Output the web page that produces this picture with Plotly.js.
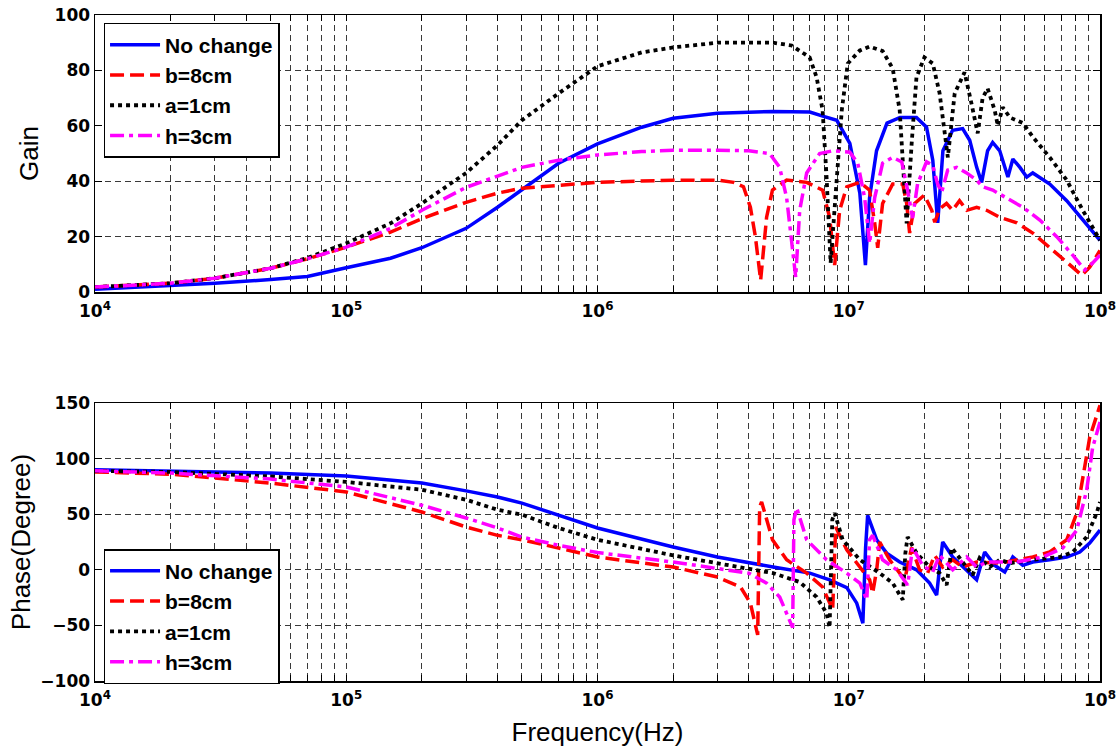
<!DOCTYPE html>
<html>
<head>
<meta charset="utf-8">
<script src="https://cdn.plot.ly/plotly-3.0.1.min.js"></script>
<style>html,body{margin:0;padding:0;background:#fff;}#chart{width:1118px;height:755px;}</style>
</head>
<body>
<div id="chart"></div>
<script>
// ---------- data ----------
const seriesNames = ['No change', 'b=8cm', 'a=1cm', 'h=3cm'];

// Gain subplot
const gainNoChangeF = [1e4,2e4,3e4,5e4,7e4,1e5,1.5e5,2e5,3e5,4e5,5e5,7e5,1e6,1.5e6,2e6,3e6,5e6,7e6,7.94e6,8.96e6,1.01e7,1.107e7,1.165e7,1.21e7,1.29e7,1.42e7,1.6e7,1.86e7,2.04e7,2.16e7,2.26e7,2.37e7,2.59e7,2.84e7,3.03e7,3.23e7,3.38e7,3.57e7,3.74e7,3.99e7,4.3e7,4.5e7,4.8e7,5.11e7,5.4e7,6.31e7,7.37e7,8.54e7,1e8];
const gainNoChange = [1,2.3,3.2,4.5,5.6,8.8,12.2,16,23,30.6,36.8,46.5,53.5,59.5,62.7,64.5,65.2,65,63.4,62,53.7,35.7,9.7,34,51,61,63,63,59.5,47.6,25,51,58.4,59,54.8,45,39.6,51,54,51,41.5,48,45,41.5,43,39,33,26,18.7];

const gainB8F = [1e4,2e4,3e4,5e4,7e4,1e5,1.5e5,2e5,3e5,4e5,5e5,7e5,1e6,2e6,3e6,3.48e6,3.81e6,4.06e6,4.25e6,4.46e6,4.71e6,4.97e6,5.66e6,6.8e6,7.87e6,8.39e6,8.79e6,9.2e6,9.82e6,1.107e7,1.21e7,1.268e7,1.304e7,1.364e7,1.496e7,1.64e7,1.7e7,1.747e7,1.83e7,2.0e7,2.14e7,2.2e7,2.3e7,2.45e7,2.59e7,2.76e7,2.95e7,3.23e7,3.54e7,3.99e7,4.67e7,5.4e7,6.31e7,7.37e7,8.46e7,9.1e7,1e8];
const gainB8 = [1.8,3.2,5,8.6,12,16.2,21.6,26.5,32.4,35.7,37.5,38.6,39.6,40.4,40.4,39.6,38,30.6,20,4.3,27,36.8,40.4,39.6,36.8,27,9.7,29.5,38,39.6,36.8,25,16,32,39,39,32,21.3,32,35,29.5,25.2,30,32,29.5,33,29.5,30.6,29.5,27,25,21.3,16.2,10.8,6.1,9,15];

const gainA1F = [1e4,2e4,3e4,5e4,7e4,1e5,1.5e5,2e5,3e5,4e5,5e5,7e5,1e6,1.5e6,2e6,3e6,5e6,5.92e6,6.99e6,7.45e6,7.87e6,8.16e6,8.47e6,8.96e6,9.38e6,9.91e6,1.107e7,1.21e7,1.364e7,1.496e7,1.595e7,1.64e7,1.70e7,1.78e7,1.86e7,2.0e7,2.16e7,2.3e7,2.41e7,2.48e7,2.64e7,2.89e7,3.08e7,3.26e7,3.41e7,3.57e7,3.81e7,3.92e7,4.1e7,4.38e7,4.93e7,5.4e7,6.31e7,7.37e7,8.54e7,1e8];
const gainA1 = [1.8,3.2,5,8.6,12.3,17.6,24.8,32,43,53,62,71.7,81.5,86.5,88.3,90,90,89,84.7,77.5,65.6,41.5,10.5,41.5,65.6,82.5,87.2,88.6,87,80.7,65.6,47.6,24.8,53.7,77.5,84.7,82.5,71.7,56,48.6,71.7,79.3,68,57.3,70,73.5,65.6,60,66.7,63,61,56,48.6,40.4,29.5,18.7];

const gainH3F = [1e4,2e4,3e4,5e4,7e4,1e5,1.5e5,2e5,3e5,4e5,5e5,7e5,1e6,1.5e6,2e6,3e6,4e6,4.84e6,5.31e6,5.66e6,6.15e6,6.38e6,6.8e6,7.66e6,8.63e6,1.01e7,1.086e7,1.157e7,1.211e7,1.268e7,1.364e7,1.496e7,1.625e7,1.715e7,1.795e7,1.879e7,2.04e7,2.157e7,2.258e7,2.343e7,2.476e7,2.69e7,2.945e7,3.228e7,3.412e7,3.741e7,4.256e7,4.929e7,5.76e7,6.726e7,7.794e7,8.69e7,9.35e7,1e8];
const gainH3 = [1.8,3.2,5,8.6,12,16.2,23,29.5,37.8,42,45,47.6,49.5,50.7,51.2,51.2,51,50,45,34,5.4,29.5,43,50,51,50.5,46.5,34,17.6,34,46.5,48.6,47,36.8,26.7,39,47,45.8,39,36,44,45,43,40.4,38,36.8,34,30.6,26,20,13.3,8,10.5,13.3];

// Phase subplot
const phaseNoChangeF = [1e4,2e4,5e4,1e5,2e5,3e5,4e5,5e5,7e5,1e6,2e6,3e6,5e6,7e6,8.39e6,9.82e6,1.076e7,1.138e7,1.167e7,1.189e7,1.292e7,1.416e7,1.595e7,1.862e7,2.098e7,2.238e7,2.3e7,2.365e7,2.593e7,2.945e7,3.228e7,3.476e7,3.811e7,4.178e7,4.498e7,4.929e7,5.402e7,6.31e7,7.372e7,8.312e7,9.1e7,1e8];
const phaseNoChange = [90,89,87,84.4,78,71,65.5,60,49,37.6,20.5,11.5,2.5,-3,-9,-16,-30,-48,20,49,27,15,7,0,-12,-22.7,2.5,25,11.5,0,-9,16,4,-2,11.5,4,7,9,11.5,16,24,35.7];

const phaseB8F = [1e4,2e4,5e4,1e5,2e5,3e5,4e5,5e5,7e5,1e6,2e6,3e6,3.71e6,4.06e6,4.34e6,4.42e6,4.5e6,4.97e6,5.66e6,6.8e6,7.87e6,8.63e6,8.87e6,9.82e6,1.107e7,1.211e7,1.245e7,1.292e7,1.328e7,1.455e7,1.595e7,1.67e7,1.779e7,1.914e7,2.06e7,2.197e7,2.365e7,2.593e7,2.839e7,3.228e7,3.99e7,5.402e7,6.31e7,7.372e7,8.085e7,8.54e7,9.1e7,1e8];
const phaseB8 = [88,86,78,70,52,38.5,31,27,19.6,11.5,2.5,-6.5,-15.5,-30,-58.6,56.5,61,27,9,-3,-15.5,-36,38.5,18,2.5,-9,-21,0,25,9,-3,-9,20,0,-3,13,2.5,9,2.5,7,6,11.5,16,27,51,81,119,148];

const phaseA1F = [1e4,2e4,5e4,1e5,2e5,3e5,4e5,5e5,7e5,1e6,2e6,3e6,5e6,6.38e6,7.45e6,8.16e6,8.39e6,8.6e6,8.79e6,9.46e6,1.107e7,1.328e7,1.496e7,1.64e7,1.68e7,1.715e7,1.862e7,2.098e7,2.3e7,2.453e7,2.569e7,2.762e7,2.945e7,3.111e7,3.318e7,3.64e7,3.99e7,4.376e7,5.402e7,6.914e7,7.794e7,8.85e7,9.7e7,1e8];
const phaseA1 = [89,88,84,79,72,63,54,49.6,37.6,27,13,6,-3,-11,-24.5,-39,-52,45,51,27,9,-3,-12,-27,15,29.5,15,2.5,-3,-13.7,19.6,10.6,2.5,-4.7,10.6,2.5,9,6,9,11.5,16,29.5,51,61];

const phaseH3F = [1e4,2e4,5e4,1e5,2e5,3e5,4e5,5e5,7e5,1e6,2e6,3e6,4e6,4.71e6,5.31e6,5.98e6,6.05e6,6.21e6,6.8e6,8.16e6,9.82e6,1.107e7,1.18e7,1.21e7,1.245e7,1.364e7,1.552e7,1.715e7,1.795e7,1.968e7,2.157e7,2.3e7,2.593e7,2.945e7,3.228e7,3.54e7,4.666e7,5.921e7,7.107e7,8.085e7,8.85e7,9.35e7,1e8];
const phaseH3 = [89,87,81.6,74.5,58,46.6,37.6,29.5,22,15.5,7,1.6,-3,-12,-24.5,-52,45,55.6,27,9,-3,-12,-27,27,31,9,0,-13.7,20,4,-2,13,0,11.5,2.5,7,7,11.5,19.6,35.7,71.7,110,133];

// Axis ticks
const xTickVals = [1e4,2e4,3e4,4e4,5e4,6e4,7e4,8e4,9e4,1e5,2e5,3e5,4e5,5e5,6e5,7e5,8e5,9e5,1e6,2e6,3e6,4e6,5e6,6e6,7e6,8e6,9e6,1e7,2e7,3e7,4e7,5e7,6e7,7e7,8e7,9e7,1e8];
const xTickText = ['10<sup>4</sup>','','','','','','','','','10<sup>5</sup>','','','','','','','','','10<sup>6</sup>','','','','','','','','','10<sup>7</sup>','','','','','','','','','10<sup>8</sup>'];
const gainTicks = [0,20,40,60,80,100];
const phaseTicks = [-100,-50,0,50,100,150];

// ---------- styles ----------
const styles = [
  {color:'#0000ff', width:3.5, dash:'solid'},
  {color:'#ff0000', width:3.5, dash:'14px,6px'},
  {color:'#000000', width:3.8, dash:'4px,4px'},
  {color:'#ff00ff', width:3.5, dash:'14px,5px,4px,5px'}
];

const gainX = [gainNoChangeF, gainB8F, gainA1F, gainH3F];
const gainY = [gainNoChange, gainB8, gainA1, gainH3];
const phaseX = [phaseNoChangeF, phaseB8F, phaseA1F, phaseH3F];
const phaseY = [phaseNoChange, phaseB8, phaseA1, phaseH3];

const traces = [];
for (let i = 0; i < 4; i++) {
  traces.push({x: gainX[i], y: gainY[i], name: seriesNames[i], type:'scatter', mode:'lines',
    line: styles[i], xaxis:'x', yaxis:'y', legend:'legend'});
}
for (let i = 0; i < 4; i++) {
  traces.push({x: phaseX[i], y: phaseY[i], name: seriesNames[i], type:'scatter', mode:'lines',
    line: styles[i], xaxis:'x2', yaxis:'y2', legend:'legend2'});
}

const tickFont = {family:'DejaVu Sans, Arial, sans-serif', size:17, color:'#000', weight:'bold'};
const titleFont = {family:'Liberation Sans, Arial, sans-serif', size:26, color:'#000'};
const gridStyle = {showgrid:true, gridcolor:'#3a3a3a', gridwidth:1, griddash:'6px,4px'};

function xAxis(anchor, withTitle) {
  return Object.assign({
    type:'log', range:[4,8], anchor:anchor,
    tickmode:'array', tickvals:xTickVals, ticktext:xTickText,
    ticks:'inside', ticklen:6, tickwidth:1, tickcolor:'#000',
    showline:true, linecolor:'#000', linewidth:1.5, mirror:'ticks',
    tickfont:tickFont, zeroline:false, ticklabelstandoff:3,
    title: withTitle ? {text:'Frequency(Hz)', font:titleFont, standoff:14} : {text:''}
  }, gridStyle);
}
function yAxis(anchor, domain, range, ticks, title, standoff) {
  return Object.assign({
    anchor:anchor, domain:domain, range:range,
    tickmode:'array', tickvals:ticks,
    ticks:'inside', ticklen:7, tickwidth:1, tickcolor:'#000',
    showline:true, linecolor:'#000', linewidth:1.5, mirror:'ticks',
    tickfont:tickFont, zeroline:false,
    title:{text:title, font:titleFont, standoff:standoff}
  }, gridStyle);
}

const legendBase = {
  xref:'paper', yref:'paper', xanchor:'left', yanchor:'top',
  bgcolor:'#ffffff', bordercolor:'#000', borderwidth:1.5,
  font:{family:'Liberation Sans, Arial, sans-serif', size:21, color:'#000', weight:'bold'},
  itemwidth:50, tracegroupgap:0
};

const layout = {
  width:1118, height:755,
  margin:{l:95, r:18, t:15, b:74},
  paper_bgcolor:'#ffffff', plot_bgcolor:'#ffffff',
  showlegend:true,
  xaxis: xAxis('y', false),
  yaxis: yAxis('x', [0.584, 1], [0, 100], gainTicks, 'Gain', 8),
  xaxis2: xAxis('y2', true),
  yaxis2: yAxis('x2', [0, 0.4174], [-100, 150], phaseTicks, 'Phase(Degree)', 2),
  legend: Object.assign({x:0.0085, y:0.988}, legendBase),
  legend2: Object.assign({x:0.0085, y:0.198}, legendBase)
};

Plotly.newPlot('chart', traces, layout, {staticPlot:true, displayModeBar:false});
</script>
</body>
</html>
